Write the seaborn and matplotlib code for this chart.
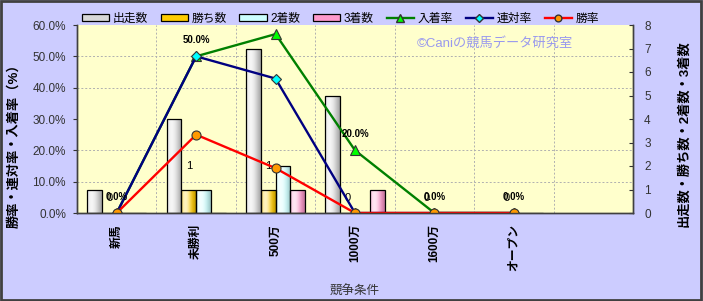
import numpy as np
import pandas as pd
import matplotlib
matplotlib.use("Agg")
import matplotlib.pyplot as plt
from matplotlib.patches import Rectangle
from matplotlib.lines import Line2D
from matplotlib.ticker import PercentFormatter, MultipleLocator
import seaborn as sns

# ---------------- data ----------------
categories = ["新馬", "未勝利", "500万", "1000万", "1600万", "オープン"]
count_series = ["出走数", "勝ち数", "2着数", "3着数"]
runs = [1, 4, 7, 5, 0, 0]
wins = [0, 1, 1, 0, 0, 0]
seconds = [0, 1, 2, 0, 0, 0]
thirds = [0, 0, 1, 1, 0, 0]
place_rate = [0.0, 50.0, 57.1, 20.0, 0.0, 0.0]     # 入着率
quinella_rate = [0.0, 50.0, 42.9, 0.0, 0.0, 0.0]  # 連対率
win_rate = [0.0, 25.0, 14.3, 0.0, 0.0, 0.0]       # 勝率
rate_labels = ["0.0%", "50.0%", "", "20.0%", "0.0%", "0.0%"]
win_labels_zero = ["0", "", "", "0", "0", "0"]
win_labels_one = ["", "1", "1", "", "", ""]

bar_colors = ["#D8D8D8", "#FFCC00", "#CCFFFF", "#FF99CC"]
line_specs = [
    ("入着率", place_rate, "#008000", "^", "#00FF00", 7.0),
    ("連対率", quinella_rate, "#000080", "D", "#00FFFF", 5.0),
    ("勝率", win_rate, "#FF0000", "o", "#FF9900", 6.5),
]

plt.rcParams["font.family"] = ["Liberation Sans", "Noto Sans CJK JP", "DejaVu Sans"]
plt.rcParams["axes.unicode_minus"] = False

df = pd.DataFrame({
    "条件": categories * 4,
    "系列": sum([[s] * len(categories) for s in count_series], []),
    "数": runs + wins + seconds + thirds,
})

W, H = 703, 301
fig = plt.figure(figsize=(W / 100, H / 100), dpi=100, facecolor="#CCCCFF")
ax = fig.add_axes([77 / W, 1 - 213 / H, (633 - 77) / W, (213 - 25) / H])
ax.set_facecolor("#FFFFCC")

sns.barplot(data=df, x="条件", y="数", hue="系列", order=categories,
            hue_order=count_series, palette=bar_colors, saturation=1,
            width=0.745, edgecolor="black", linewidth=0.9, legend=False, ax=ax)

# cylinder-like shading of bars
t = np.linspace(0, 1, 64)
light = np.clip(1 - ((t - 0.3) / 0.75) ** 2, 0, 1)
for cont, base in zip(ax.containers, bar_colors):
    rgb = np.array(matplotlib.colors.to_rgb(base))
    shade = rgb[None, :] * (0.72 + 0.28 * light[:, None])
    shade = shade + (1 - shade) * 0.75 * (light[:, None] ** 4)
    img = np.clip(shade, 0, 1)[None, :, :]
    for bar in cont:
        h = bar.get_height()
        if h <= 0:
            continue
        x0, w = bar.get_x(), bar.get_width()
        im = ax.imshow(img, extent=[x0, x0 + w, 0, h], aspect="auto",
                       zorder=0.95, interpolation="bilinear")
        im.set_clip_path(bar)
        bar.set_facecolor("none")
        bar.set_zorder(1.0)

ax.bar_label(ax.containers[1], labels=win_labels_zero, padding=7, fontsize=8)
ax.bar_label(ax.containers[1], labels=win_labels_one, padding=13, fontsize=8)

ax2 = ax.twinx()
for name, vals, col, mk, mfc, ms in line_specs:
    sns.pointplot(x=categories, y=vals, order=categories, color=col,
                  errorbar=None, marker=mk, markersize=ms, markerfacecolor=mfc,
                  markeredgecolor="#333333", markeredgewidth=0.8,
                  linewidth=1.7, ax=ax2)
for i, lab in enumerate(rate_labels):
    if lab:
        ax2.annotate(lab, xy=(i, place_rate[i]), xytext=(0, 11.5),
                     textcoords="offset points", ha="center", va="center",
                     fontsize=7, fontweight="bold")

# host axis (counts) -> right side
ax.yaxis.tick_right()
ax.yaxis.set_label_position("right")
ax.set_yticks(range(0, 9))
ax.tick_params(axis="y", which="major", direction="in", length=3, pad=8,
               labelsize=8.5, colors="#333333", left=False, labelleft=False,
               right=True, labelright=True)
ax.set_yticks(np.arange(1, 7) * (10 / 7.5), minor=True)
ax.set_xticks(np.arange(0.5, 6.5, 1), minor=True)
ax.tick_params(which="minor", length=0)
ax.grid(which="minor", color="#B0B0B0", linestyle=(0, (2, 2)), linewidth=0.7)
ax.set_axisbelow(True)
ax.set_xlabel("競争条件", fontsize=9, color="#333333")
ax.xaxis.set_label_coords(0.5, -0.385)
ax.set_ylabel("出走数・勝ち数・2着数・3着数", fontsize=9.5, fontweight="bold",
              rotation=90)
ax.yaxis.set_label_coords(1.081, 0.42)
ax.set_ylim(0, 8)
ax.set_xlim(-0.5, 6.5)

# twin axis (rates) -> left side
ax2.set_ylim(0, 60)
ax2.set_xlim(-0.5, 6.5)
ax2.yaxis.tick_left()
ax2.yaxis.set_label_position("left")
ax2.yaxis.set_major_locator(MultipleLocator(10))
ax2.yaxis.set_major_formatter(PercentFormatter(100, decimals=1))
ax2.tick_params(axis="y", direction="out", length=3, pad=5, labelsize=8.5,
                colors="#333333", right=False, labelright=False,
                left=True, labelleft=True)
ax2.set_ylabel("勝率・連対率・入着率（%）", fontsize=9.5, fontweight="bold",
               rotation=90)
ax2.yaxis.set_label_coords(-0.1025, 0.375)
ax2.set_xlabel("")

ax.set_xticks(range(len(categories)))
ax.set_xticklabels(categories, rotation=90, fontsize=8.5, fontweight="bold",
                   va="top", ha="center")
ax.tick_params(axis="x", length=0, pad=8)
ax2.tick_params(axis="x", length=0)
ax.set_xlim(-0.5, 6.5)

for a in (ax, ax2):
    a.spines["top"].set_visible(False)
    for s in ("left", "right", "bottom"):
        a.spines[s].set_color("#404040")
        a.spines[s].set_linewidth(1.0)

ax2.text(0.752, 0.9, "©Caniの競馬データ研究室", transform=ax2.transAxes,
         ha="center", va="center", fontsize=9.5, color="#9999EE")

handles = [Rectangle((0, 0), 1, 1, facecolor=c, edgecolor="black", linewidth=0.9)
           for c in bar_colors]
handles += [Line2D([], [], color=col, marker=mk, markerfacecolor=mfc,
                   markeredgecolor="#333333", markersize=ms * 0.75, linewidth=1.7)
            for _, _, col, mk, mfc, ms in line_specs]
labels = count_series + [s[0] for s in line_specs]
fig.legend(handles, labels, loc="upper left", bbox_to_anchor=(71 / W, 1 - 2 / H),
           ncol=7, frameon=False, fontsize=8.5, handlelength=2.3,
           handleheight=0.6, handletextpad=0.3, columnspacing=1.1)

fig.patches.append(Rectangle((0.001, 0.003), 0.996, 0.994, transform=fig.transFigure,
                             fill=False, edgecolor="#404040", linewidth=2.0))

fig.savefig("out.png", dpi=100, facecolor=fig.get_facecolor())
